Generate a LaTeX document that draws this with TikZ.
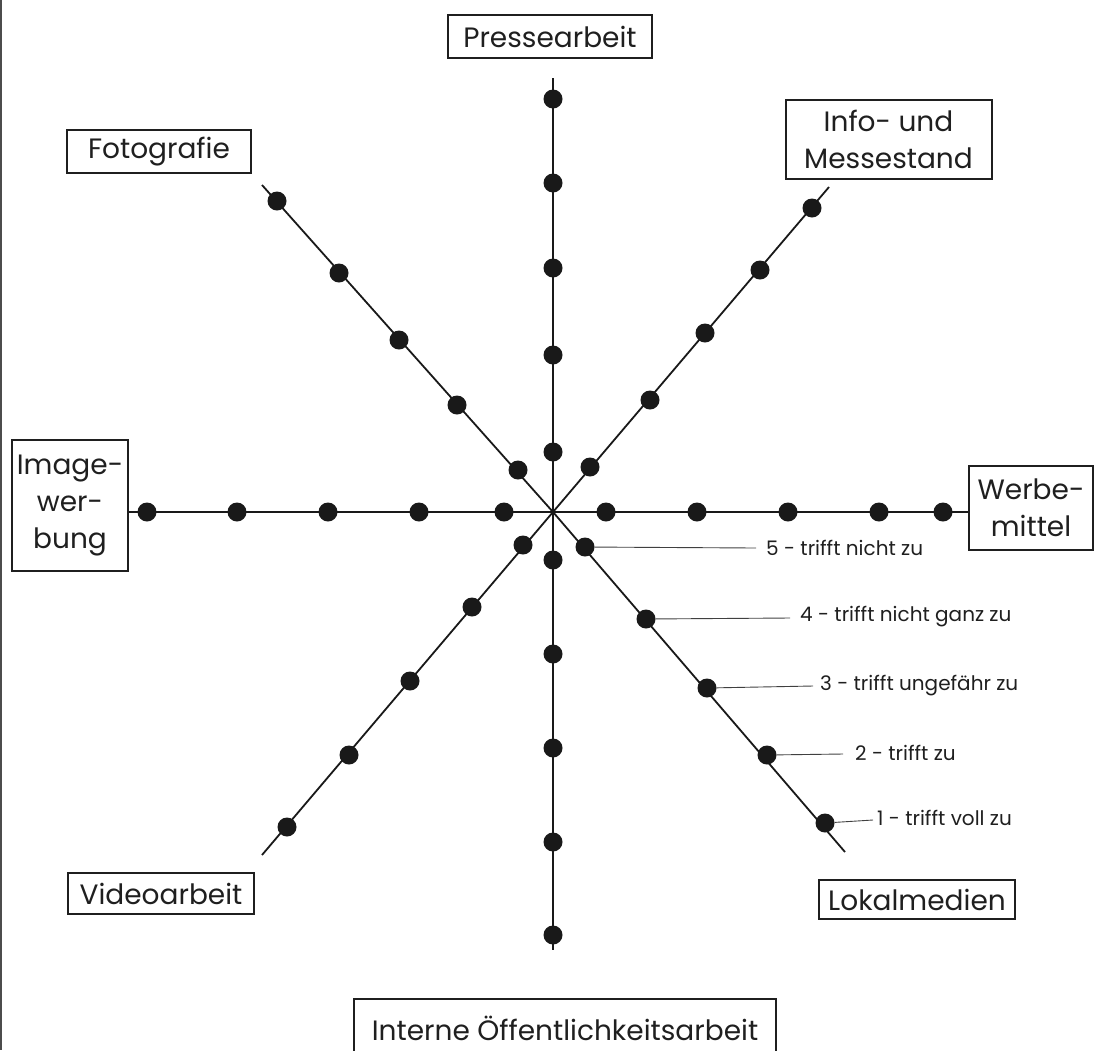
\documentclass[tikz,border=0pt]{standalone}
\usepackage{fontspec}
\setmainfont{Poppins}
\begin{document}
\begin{tikzpicture}[x=1pt,y=-1pt,
  box/.style={draw=black!88, line width=2pt, inner sep=0pt, align=center,
    font=\fontsize{28}{37}\selectfont, text=black!88},
  dot/.style={circle, fill=black!90, inner sep=0pt, minimum size=19pt},
  axis/.style={line width=1.8pt, black!90},
  leader/.style={line width=0.9pt, black!75},
  scalelabel/.style={anchor=west, inner sep=0pt, text=black!88,
    font=\fontsize{20}{24}\selectfont}]
\useasboundingbox (0,0) rectangle (1099,1050);
\draw[line width=2pt, black!70] (1,0) -- (1,1050);

% boxes
\node[box, minimum width=204pt, minimum height=43pt] (press) at (550,36.5) {Pressearbeit};
\node[box, minimum width=184pt, minimum height=43pt] (foto) at (159,151.5) {Fotografie};
\node[box, minimum width=206pt, minimum height=79pt] (info) at (888.5,139) {Info- und\\Messestand};
\node[box, minimum width=116pt, minimum height=131pt] (img) at (70,505.5) {Image-\\wer-\\bung};
\node[box, minimum width=124pt, minimum height=84pt] (wm) at (1031,508) {Werbe-\\mittel};
\node[box, minimum width=186pt, minimum height=41pt] (video) at (161,893.5) {Videoarbeit};
\node[box, minimum width=196pt, minimum height=39pt] (lokal) at (917,899.5) {Lokalmedien};
\node[box, minimum width=422pt, minimum height=58pt] (intern) at (565,1028) {Interne Öffentlichkeitsarbeit};

% axes
\coordinate (c) at (553,512);
\coordinate (nT) at (553,78);
\coordinate (sB) at (553,950);
\coordinate (nw) at (262,185);
\coordinate (ne) at (829,187);
\coordinate (sw) at (262,855);
\coordinate (se) at (845,852);
\draw[axis] (nT) -- (sB);
\draw[axis] (img.east |- c) -- (wm.west |- c);
\draw[axis] (nw) -- (c);
\draw[axis] (c) -- (se);
\draw[axis] (ne) -- (c);
\draw[axis] (c) -- (sw);

% dots: north / south
\foreach \y [count=\i] in {99,183,268,355,452} \node[dot] (n\i) at (553,\y) {};
\foreach \y [count=\i] in {560,654,748,842,935} \node[dot] (s\i) at (553,\y) {};
% west / east
\foreach \x [count=\i] in {147,237,328,419,504} \node[dot] (w\i) at (\x,512) {};
\foreach \x [count=\i] in {606,697,788,879,943} \node[dot] (e\i) at (\x,512) {};
% diagonals
\foreach \x/\y [count=\i] in {277/201,339/273,399/340,457/405,518/470} \node[dot] (nwd\i) at (\x,\y) {};
\foreach \x/\y [count=\i] in {590/467,650/400,705/333,760/270,812/208} \node[dot] (ned\i) at (\x,\y) {};
\foreach \x/\y [count=\i] in {523/545,472/607,410/681,349/755,287/827} \node[dot] (swd\i) at (\x,\y) {};
\foreach \x/\y [count=\i] in {585/547,646/619,707/688,767/755,825/823} \node[dot] (sed\i) at (\x,\y) {};

% scale legend
\coordinate (le1) at (756,548);
\coordinate (le2) at (790,618);
\coordinate (le3) at (813,686);
\coordinate (le4) at (843,754);
\coordinate (le5) at (873,820);
\draw[leader] (sed1) -- (le1);
\draw[leader] (sed2) -- (le2);
\draw[leader] (sed3) -- (le3);
\draw[leader] (sed4) -- (le4);
\draw[leader] (sed5) -- (le5);
\node[scalelabel] (lab5) at (766,548) {5 - trifft nicht zu};
\node[scalelabel] (lab4) at (800,617) {4 - trifft nicht ganz zu};
\node[scalelabel] (lab3) at (820,686) {3 - trifft ungefähr zu};
\node[scalelabel] (lab2) at (855,753) {2 - trifft zu};
\node[scalelabel] (lab1) at (877,818) {1 - trifft voll zu};
\end{tikzpicture}
\end{document}
